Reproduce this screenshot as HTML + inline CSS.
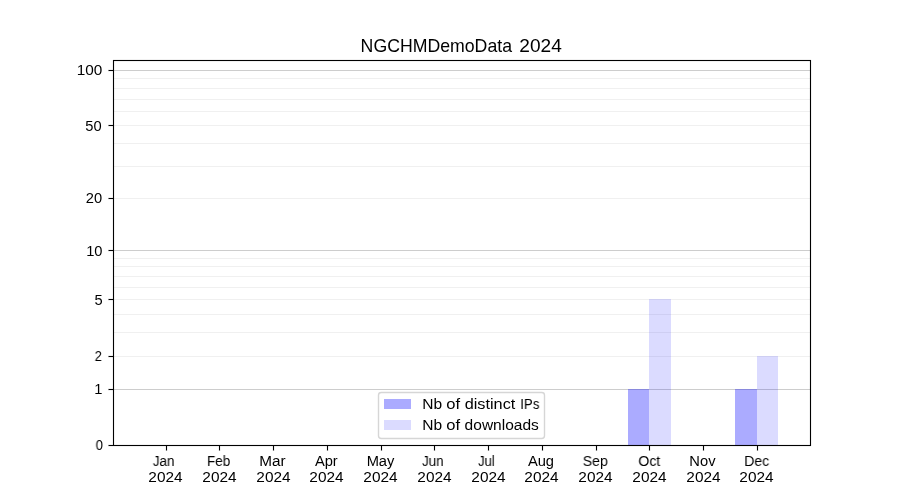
<!DOCTYPE html>
<html><head><meta charset="utf-8"><title>NGCHMDemoData 2024</title>
<style>
html,body{margin:0;padding:0;background:#fff;}
body{width:900px;height:500px;position:relative;overflow:hidden;font-family:"Liberation Sans",sans-serif;color:#000;}
svg{position:absolute;left:0;top:0;}
.t{position:absolute;white-space:nowrap;line-height:1;transform-origin:0 0;will-change:transform;}
</style></head><body>
<svg width="900" height="500" viewBox="0 0 900 500" shape-rendering="crispEdges">
<rect x="114" y="78" width="696" height="1" fill="#f0f0f0"/>
<rect x="114" y="88" width="696" height="1" fill="#f0f0f0"/>
<rect x="114" y="99" width="696" height="1" fill="#f0f0f0"/>
<rect x="114" y="111" width="696" height="1" fill="#f0f0f0"/>
<rect x="114" y="125" width="696" height="1" fill="#f0f0f0"/>
<rect x="114" y="143" width="696" height="1" fill="#f0f0f0"/>
<rect x="114" y="166" width="696" height="1" fill="#f0f0f0"/>
<rect x="114" y="198" width="696" height="1" fill="#f0f0f0"/>
<rect x="114" y="258" width="696" height="1" fill="#f0f0f0"/>
<rect x="114" y="266" width="696" height="1" fill="#f0f0f0"/>
<rect x="114" y="276" width="696" height="1" fill="#f0f0f0"/>
<rect x="114" y="287" width="696" height="1" fill="#f0f0f0"/>
<rect x="114" y="299" width="696" height="1" fill="#f0f0f0"/>
<rect x="114" y="314" width="696" height="1" fill="#f0f0f0"/>
<rect x="114" y="332" width="696" height="1" fill="#f0f0f0"/>
<rect x="114" y="356" width="696" height="1" fill="#f0f0f0"/>
<rect x="114" y="70" width="696" height="1" fill="#cdcdcd"/>
<rect x="114" y="250" width="696" height="1" fill="#cdcdcd"/>
<rect x="114" y="389" width="696" height="1" fill="#cdcdcd"/>
<rect x="628" y="389" width="21" height="56" fill="rgba(0,0,255,0.33)"/>
<rect x="649" y="299" width="22" height="146" fill="rgba(0,0,255,0.14)"/>
<rect x="735" y="389" width="22" height="56" fill="rgba(0,0,255,0.33)"/>
<rect x="757" y="356" width="21" height="89" fill="rgba(0,0,255,0.14)"/>
<rect x="108" y="69" width="5" height="1" fill="rgba(0,0,0,0.055)"/>
<rect x="108" y="71" width="5" height="1" fill="rgba(0,0,0,0.055)"/>
<rect x="109" y="70" width="4" height="1" fill="#000"/>
<rect x="108" y="70" width="1" height="1" fill="rgba(0,0,0,0.5)"/>
<rect x="108" y="124" width="5" height="1" fill="rgba(0,0,0,0.055)"/>
<rect x="108" y="126" width="5" height="1" fill="rgba(0,0,0,0.055)"/>
<rect x="109" y="125" width="4" height="1" fill="#000"/>
<rect x="108" y="125" width="1" height="1" fill="rgba(0,0,0,0.5)"/>
<rect x="108" y="197" width="5" height="1" fill="rgba(0,0,0,0.055)"/>
<rect x="108" y="199" width="5" height="1" fill="rgba(0,0,0,0.055)"/>
<rect x="109" y="198" width="4" height="1" fill="#000"/>
<rect x="108" y="198" width="1" height="1" fill="rgba(0,0,0,0.5)"/>
<rect x="108" y="249" width="5" height="1" fill="rgba(0,0,0,0.055)"/>
<rect x="108" y="251" width="5" height="1" fill="rgba(0,0,0,0.055)"/>
<rect x="109" y="250" width="4" height="1" fill="#000"/>
<rect x="108" y="250" width="1" height="1" fill="rgba(0,0,0,0.5)"/>
<rect x="108" y="298" width="5" height="1" fill="rgba(0,0,0,0.055)"/>
<rect x="108" y="300" width="5" height="1" fill="rgba(0,0,0,0.055)"/>
<rect x="109" y="299" width="4" height="1" fill="#000"/>
<rect x="108" y="299" width="1" height="1" fill="rgba(0,0,0,0.5)"/>
<rect x="108" y="355" width="5" height="1" fill="rgba(0,0,0,0.055)"/>
<rect x="108" y="357" width="5" height="1" fill="rgba(0,0,0,0.055)"/>
<rect x="109" y="356" width="4" height="1" fill="#000"/>
<rect x="108" y="356" width="1" height="1" fill="rgba(0,0,0,0.5)"/>
<rect x="108" y="388" width="5" height="1" fill="rgba(0,0,0,0.055)"/>
<rect x="108" y="390" width="5" height="1" fill="rgba(0,0,0,0.055)"/>
<rect x="109" y="389" width="4" height="1" fill="#000"/>
<rect x="108" y="389" width="1" height="1" fill="rgba(0,0,0,0.5)"/>
<rect x="108" y="444" width="5" height="1" fill="rgba(0,0,0,0.055)"/>
<rect x="108" y="446" width="5" height="1" fill="rgba(0,0,0,0.055)"/>
<rect x="109" y="445" width="4" height="1" fill="#000"/>
<rect x="108" y="445" width="1" height="1" fill="rgba(0,0,0,0.5)"/>
<rect x="165" y="446" width="1" height="5" fill="rgba(0,0,0,0.055)"/>
<rect x="167" y="446" width="1" height="5" fill="rgba(0,0,0,0.055)"/>
<rect x="166" y="446" width="1" height="4" fill="#000"/>
<rect x="166" y="450" width="1" height="1" fill="rgba(0,0,0,0.5)"/>
<rect x="218" y="446" width="1" height="5" fill="rgba(0,0,0,0.055)"/>
<rect x="220" y="446" width="1" height="5" fill="rgba(0,0,0,0.055)"/>
<rect x="219" y="446" width="1" height="4" fill="#000"/>
<rect x="219" y="450" width="1" height="1" fill="rgba(0,0,0,0.5)"/>
<rect x="272" y="446" width="1" height="5" fill="rgba(0,0,0,0.055)"/>
<rect x="274" y="446" width="1" height="5" fill="rgba(0,0,0,0.055)"/>
<rect x="273" y="446" width="1" height="4" fill="#000"/>
<rect x="273" y="450" width="1" height="1" fill="rgba(0,0,0,0.5)"/>
<rect x="326" y="446" width="1" height="5" fill="rgba(0,0,0,0.055)"/>
<rect x="328" y="446" width="1" height="5" fill="rgba(0,0,0,0.055)"/>
<rect x="327" y="446" width="1" height="4" fill="#000"/>
<rect x="327" y="450" width="1" height="1" fill="rgba(0,0,0,0.5)"/>
<rect x="380" y="446" width="1" height="5" fill="rgba(0,0,0,0.055)"/>
<rect x="382" y="446" width="1" height="5" fill="rgba(0,0,0,0.055)"/>
<rect x="381" y="446" width="1" height="4" fill="#000"/>
<rect x="381" y="450" width="1" height="1" fill="rgba(0,0,0,0.5)"/>
<rect x="433" y="446" width="1" height="5" fill="rgba(0,0,0,0.055)"/>
<rect x="435" y="446" width="1" height="5" fill="rgba(0,0,0,0.055)"/>
<rect x="434" y="446" width="1" height="4" fill="#000"/>
<rect x="434" y="450" width="1" height="1" fill="rgba(0,0,0,0.5)"/>
<rect x="487" y="446" width="1" height="5" fill="rgba(0,0,0,0.055)"/>
<rect x="489" y="446" width="1" height="5" fill="rgba(0,0,0,0.055)"/>
<rect x="488" y="446" width="1" height="4" fill="#000"/>
<rect x="488" y="450" width="1" height="1" fill="rgba(0,0,0,0.5)"/>
<rect x="541" y="446" width="1" height="5" fill="rgba(0,0,0,0.055)"/>
<rect x="543" y="446" width="1" height="5" fill="rgba(0,0,0,0.055)"/>
<rect x="542" y="446" width="1" height="4" fill="#000"/>
<rect x="542" y="450" width="1" height="1" fill="rgba(0,0,0,0.5)"/>
<rect x="595" y="446" width="1" height="5" fill="rgba(0,0,0,0.055)"/>
<rect x="597" y="446" width="1" height="5" fill="rgba(0,0,0,0.055)"/>
<rect x="596" y="446" width="1" height="4" fill="#000"/>
<rect x="596" y="450" width="1" height="1" fill="rgba(0,0,0,0.5)"/>
<rect x="648" y="446" width="1" height="5" fill="rgba(0,0,0,0.055)"/>
<rect x="650" y="446" width="1" height="5" fill="rgba(0,0,0,0.055)"/>
<rect x="649" y="446" width="1" height="4" fill="#000"/>
<rect x="649" y="450" width="1" height="1" fill="rgba(0,0,0,0.5)"/>
<rect x="702" y="446" width="1" height="5" fill="rgba(0,0,0,0.055)"/>
<rect x="704" y="446" width="1" height="5" fill="rgba(0,0,0,0.055)"/>
<rect x="703" y="446" width="1" height="4" fill="#000"/>
<rect x="703" y="450" width="1" height="1" fill="rgba(0,0,0,0.5)"/>
<rect x="756" y="446" width="1" height="5" fill="rgba(0,0,0,0.055)"/>
<rect x="758" y="446" width="1" height="5" fill="rgba(0,0,0,0.055)"/>
<rect x="757" y="446" width="1" height="4" fill="#000"/>
<rect x="757" y="450" width="1" height="1" fill="rgba(0,0,0,0.5)"/>
<rect x="113" y="59" width="698" height="1" fill="rgba(0,0,0,0.055)"/>
<rect x="114" y="61" width="696" height="1" fill="rgba(0,0,0,0.055)"/>
<rect x="114" y="444" width="696" height="1" fill="rgba(0,0,0,0.055)"/>
<rect x="113" y="446" width="698" height="1" fill="rgba(0,0,0,0.055)"/>
<rect x="112" y="60" width="1" height="386" fill="rgba(0,0,0,0.055)"/>
<rect x="114" y="61" width="1" height="384" fill="rgba(0,0,0,0.055)"/>
<rect x="809" y="61" width="1" height="384" fill="rgba(0,0,0,0.055)"/>
<rect x="811" y="60" width="1" height="386" fill="rgba(0,0,0,0.055)"/>
<rect x="113" y="60" width="698" height="1" fill="#000"/>
<rect x="113" y="445" width="698" height="1" fill="#000"/>
<rect x="113" y="60" width="1" height="386" fill="#000"/>
<rect x="810" y="60" width="1" height="386" fill="#000"/>
<rect x="378.5" y="392.5" width="166" height="46" rx="2.8" ry="2.8" fill="#fff" fill-opacity="0.8" stroke="#d6d6d6" stroke-width="1.39" shape-rendering="geometricPrecision"/>
<rect x="384" y="399" width="27" height="10" fill="rgb(171,171,255)"/>
<rect x="384" y="420" width="27" height="10" fill="rgb(219,219,255)"/>
</svg>
<div class="t" style="left:360px;top:38px;font-size:17.7px;transform:translateX(0.61px);">NGCHMDemoData</div>
<div class="t" style="left:519px;top:38px;font-size:17.7px;transform:translateX(0.29px) scaleX(1.0789);">2024</div>
<div class="t" style="left:76px;top:63px;font-size:14.7px;transform:translateX(0.66px) scaleX(1.0435);">100</div>
<div class="t" style="left:85px;top:119px;font-size:14.7px;transform:translateX(0.31px);">50</div>
<div class="t" style="left:85px;top:191px;font-size:14.7px;transform:translateX(0.72px);">20</div>
<div class="t" style="left:86px;top:244px;font-size:14.7px;transform:translateX(0.14px);">10</div>
<div class="t" style="left:94px;top:293px;font-size:14.7px;transform:translateX(0.40px);">5</div>
<div class="t" style="left:94px;top:349px;font-size:14.7px;transform:translateX(0.70px) scaleX(0.8750);">2</div>
<div class="t" style="left:94px;top:382px;font-size:14.7px;transform:translateX(0.37px);">1</div>
<div class="t" style="left:95px;top:438px;font-size:14.7px;transform:translateX(0.72px) scaleX(0.8750);">0</div>
<div class="t" style="left:152px;top:454px;font-size:14.7px;transform:translateX(0.84px) scaleX(0.9130);">Jan</div>
<div class="t" style="left:148px;top:470px;font-size:14.7px;transform:translateX(0.36px) scaleX(1.0490);">2024</div>
<div class="t" style="left:206px;top:454px;font-size:14.7px;transform:translateX(0.98px) scaleX(0.9167);">Feb</div>
<div class="t" style="left:202px;top:470px;font-size:14.7px;transform:translateX(0.36px) scaleX(1.0490);">2024</div>
<div class="t" style="left:259px;top:454px;font-size:14.7px;transform:translateX(0.31px) scaleX(1.0417);">Mar</div>
<div class="t" style="left:256px;top:470px;font-size:14.7px;transform:translateX(0.36px) scaleX(1.0490);">2024</div>
<div class="t" style="left:314px;top:454px;font-size:14.7px;transform:translateX(0.89px);">Apr</div>
<div class="t" style="left:309px;top:470px;font-size:14.7px;transform:translateX(0.36px) scaleX(1.0490);">2024</div>
<div class="t" style="left:366px;top:454px;font-size:14.7px;transform:translateX(0.63px);">May</div>
<div class="t" style="left:363px;top:470px;font-size:14.7px;transform:translateX(0.36px) scaleX(1.0490);">2024</div>
<div class="t" style="left:422px;top:454px;font-size:14.7px;transform:translateX(0.01px) scaleX(0.9130);">Jun</div>
<div class="t" style="left:417px;top:470px;font-size:14.7px;transform:translateX(0.36px) scaleX(1.0490);">2024</div>
<div class="t" style="left:478px;top:454px;font-size:14.7px;transform:translateX(0.08px) scaleX(0.8889);">Jul</div>
<div class="t" style="left:471px;top:470px;font-size:14.7px;transform:translateX(0.36px) scaleX(1.0490);">2024</div>
<div class="t" style="left:527px;top:454px;font-size:14.7px;transform:translateX(0.91px);">Aug</div>
<div class="t" style="left:524px;top:470px;font-size:14.7px;transform:translateX(0.36px) scaleX(1.0490);">2024</div>
<div class="t" style="left:582px;top:454px;font-size:14.7px;transform:translateX(0.73px) scaleX(0.9600);">Sep</div>
<div class="t" style="left:578px;top:470px;font-size:14.7px;transform:translateX(0.36px) scaleX(1.0490);">2024</div>
<div class="t" style="left:638px;top:454px;font-size:14.7px;transform:translateX(0.35px) scaleX(0.9565);">Oct</div>
<div class="t" style="left:632px;top:470px;font-size:14.7px;transform:translateX(0.36px) scaleX(1.0490);">2024</div>
<div class="t" style="left:689px;top:454px;font-size:14.7px;transform:translateX(0.36px);">Nov</div>
<div class="t" style="left:686px;top:470px;font-size:14.7px;transform:translateX(0.36px) scaleX(1.0490);">2024</div>
<div class="t" style="left:744px;top:454px;font-size:14.7px;transform:translateX(0.19px) scaleX(0.9600);">Dec</div>
<div class="t" style="left:739px;top:470px;font-size:14.7px;transform:translateX(0.36px) scaleX(1.0490);">2024</div>
<div class="t" style="left:422px;top:397px;font-size:14.7px;transform:translateX(0.31px) scaleX(1.0588);">Nb</div>
<div class="t" style="left:446px;top:397px;font-size:14.7px;transform:translateX(0.35px) scaleX(1.1266);">of</div>
<div class="t" style="left:464px;top:397px;font-size:14.7px;transform:translateX(0.63px) scaleX(1.1087);">distinct</div>
<div class="t" style="left:520px;top:397px;font-size:14.7px;transform:translateX(0.27px) scaleX(0.9000);">IPs</div>
<div class="t" style="left:422px;top:418px;font-size:14.7px;transform:translateX(0.31px) scaleX(1.0588);">Nb</div>
<div class="t" style="left:446px;top:418px;font-size:14.7px;transform:translateX(0.35px) scaleX(1.1266);">of</div>
<div class="t" style="left:464px;top:418px;font-size:14.7px;transform:translateX(0.62px) scaleX(1.0571);">downloads</div>
</body></html>
